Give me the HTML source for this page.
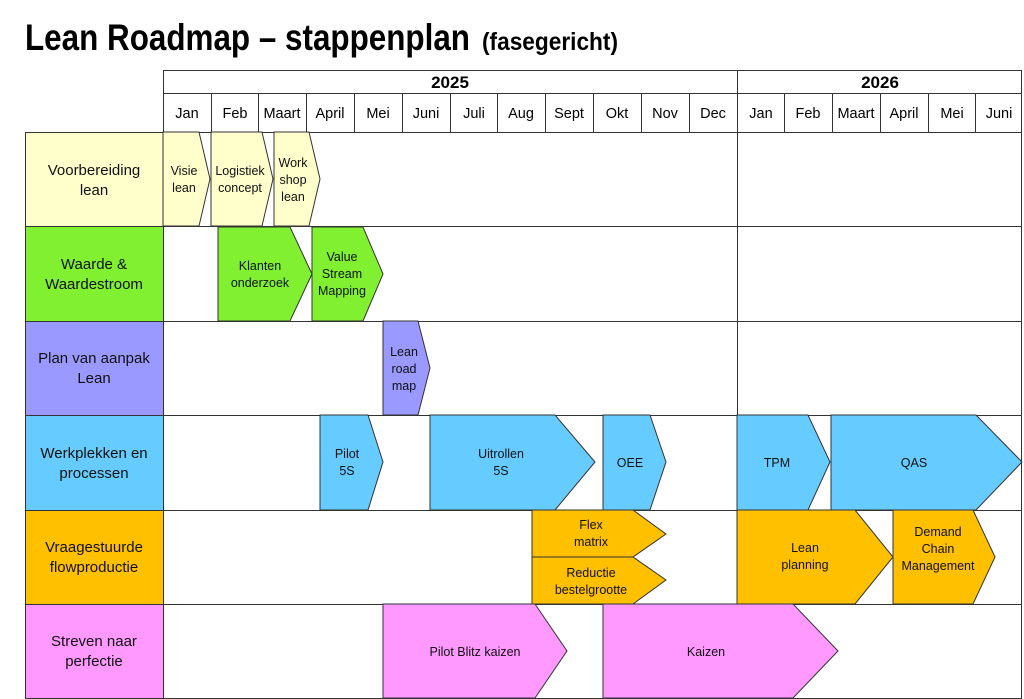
<!DOCTYPE html>
<html><head><meta charset="utf-8"><style>
html,body{margin:0;padding:0;background:#fff}
svg{display:block}
text{font-family:"Liberation Sans",sans-serif}
</style></head><body>
<svg width="1024" height="699" viewBox="0 0 1024 699" xmlns="http://www.w3.org/2000/svg">
<rect width="1024" height="699" fill="#fff"/>
<text x="25" y="50" font-size="37" font-weight="bold" textLength="445" lengthAdjust="spacingAndGlyphs">Lean Roadmap – stappenplan</text>
<text x="482" y="50" font-size="25" font-weight="bold" textLength="136" lengthAdjust="spacingAndGlyphs">(fasegericht)</text>

<!-- header -->
<g stroke="#333" stroke-width="1" fill="none">
<rect x="163.5" y="70.5" width="858" height="62"/>
<line x1="163" y1="93.5" x2="1022" y2="93.5"/>
<line x1="737.5" y1="70" x2="737.5" y2="698"/>
</g>
<g stroke="#333" stroke-width="1">
<line x1="211.5" y1="93" x2="211.5" y2="132"/><line x1="258.5" y1="93" x2="258.5" y2="132"/><line x1="306.5" y1="93" x2="306.5" y2="132"/><line x1="354.5" y1="93" x2="354.5" y2="132"/><line x1="402.5" y1="93" x2="402.5" y2="132"/><line x1="450.5" y1="93" x2="450.5" y2="132"/><line x1="497.5" y1="93" x2="497.5" y2="132"/><line x1="545.5" y1="93" x2="545.5" y2="132"/><line x1="593.5" y1="93" x2="593.5" y2="132"/><line x1="641.5" y1="93" x2="641.5" y2="132"/><line x1="689.5" y1="93" x2="689.5" y2="132"/><line x1="784.5" y1="93" x2="784.5" y2="132"/><line x1="832.5" y1="93" x2="832.5" y2="132"/><line x1="880.5" y1="93" x2="880.5" y2="132"/><line x1="928.5" y1="93" x2="928.5" y2="132"/><line x1="975.5" y1="93" x2="975.5" y2="132"/>
</g>
<g font-size="17" font-weight="bold" text-anchor="middle"><text x="450" y="88">2025</text><text x="880" y="88">2026</text></g>
<g font-size="14.5" text-anchor="middle">
<text x="187" y="118">Jan</text><text x="235" y="118">Feb</text><text x="282" y="118">Maart</text><text x="330" y="118">April</text><text x="378" y="118">Mei</text><text x="426" y="118">Juni</text><text x="474" y="118">Juli</text><text x="521" y="118">Aug</text><text x="569" y="118">Sept</text><text x="617" y="118">Okt</text><text x="665" y="118">Nov</text><text x="713" y="118">Dec</text><text x="761" y="118">Jan</text><text x="808" y="118">Feb</text><text x="856" y="118">Maart</text><text x="904" y="118">April</text><text x="952" y="118">Mei</text><text x="999" y="118">Juni</text>
</g>

<!-- rows -->
<g stroke="#333" stroke-width="1">
<rect x="25.5" y="132.5" width="138" height="94" fill="#ffffcc"/>
<rect x="25.5" y="226.5" width="138" height="95" fill="#80f030"/>
<rect x="25.5" y="321.5" width="138" height="94" fill="#9999ff"/>
<rect x="25.5" y="415.5" width="138" height="95" fill="#66ccff"/>
<rect x="25.5" y="510.5" width="138" height="94" fill="#ffc000"/>
<rect x="25.5" y="604.5" width="138" height="94" fill="#ff99ff"/>
<g fill="none">
<rect x="163.5" y="132.5" width="858" height="94"/>
<rect x="163.5" y="226.5" width="858" height="95"/>
<rect x="163.5" y="321.5" width="858" height="94"/>
<rect x="163.5" y="415.5" width="858" height="95"/>
<rect x="163.5" y="510.5" width="858" height="94"/>
<rect x="163.5" y="604.5" width="858" height="94"/>
</g>
</g>
<g font-size="15" text-anchor="middle" fill="#111">
<text x="94" y="175">Voorbereiding</text><text x="94" y="195">lean</text>
<text x="94" y="269">Waarde &amp;</text><text x="94" y="289">Waardestroom</text>
<text x="94" y="363">Plan van aanpak</text><text x="94" y="383">Lean</text>
<text x="94" y="458">Werkplekken en</text><text x="94" y="478">processen</text>
<text x="94" y="552">Vraagestuurde</text><text x="94" y="572">flowproductie</text>
<text x="94" y="646">Streven naar</text><text x="94" y="666">perfectie</text>
</g>

<!-- arrows -->
<g stroke="#333" stroke-width="1">
<polygon fill="#ffffcc" points="163,132 199,132 210,179 199,226 163,226"/>
<polygon fill="#ffffcc" points="211,132 262,132 273,179 262,226 211,226"/>
<polygon fill="#ffffcc" points="274,132 309,132 320,179 309,226 274,226"/>
<polygon fill="#80f030" points="218,227 290,227 312,274 290,321 218,321"/>
<polygon fill="#80f030" points="312,227 363,227 383,274 363,321 312,321"/>
<polygon fill="#9999ff" points="383,321 418,321 430,368 418,415 383,415"/>
<polygon fill="#66ccff" points="320,415 368,415 383,462 368,510 320,510"/>
<polygon fill="#66ccff" points="430,415 555,415 595,462 555,510 430,510"/>
<polygon fill="#66ccff" points="603,415 650,415 666,462 650,510 603,510"/>
<polygon fill="#66ccff" points="737,415 808,415 830,462 808,510 737,510"/>
<polygon fill="#66ccff" points="831,415 976,415 1022,462 976,510 831,510"/>
<polygon fill="#ffc000" points="532,510 633,510 666,534 633,557 532,557"/>
<polygon fill="#ffc000" points="532,557 633,557 666,580 633,604 532,604"/>
<polygon fill="#ffc000" points="737,510 855,510 893,557 855,604 737,604"/>
<polygon fill="#ffc000" points="893,510 973,510 995,557 973,604 893,604"/>
<polygon fill="#ff99ff" points="383,604 535,604 567,651 535,698 383,698"/>
<polygon fill="#ff99ff" points="603,604 793,604 838,651 793,698 603,698"/>
</g>
<g font-size="12.5" text-anchor="middle" fill="#111">
<text x="184" y="175">Visie</text><text x="184" y="192">lean</text>
<text x="240" y="175">Logistiek</text><text x="240" y="192">concept</text>
<text x="293" y="167">Work</text><text x="293" y="184">shop</text><text x="293" y="201">lean</text>
<text x="260" y="270">Klanten</text><text x="260" y="287">onderzoek</text>
<text x="342" y="261">Value</text><text x="342" y="278">Stream</text><text x="342" y="295">Mapping</text>
<text x="404" y="356">Lean</text><text x="404" y="373">road</text><text x="404" y="390">map</text>
<text x="347" y="458">Pilot</text><text x="347" y="475">5S</text>
<text x="501" y="458">Uitrollen</text><text x="501" y="475">5S</text>
<text x="630" y="467">OEE</text>
<text x="777" y="467">TPM</text>
<text x="914" y="467">QAS</text>
<text x="591" y="529">Flex</text><text x="591" y="546">matrix</text>
<text x="591" y="577">Reductie</text><text x="591" y="594">bestelgrootte</text>
<text x="805" y="552">Lean</text><text x="805" y="569">planning</text>
<text x="938" y="536">Demand</text><text x="938" y="553">Chain</text><text x="938" y="570">Management</text>
<text x="475" y="656">Pilot Blitz kaizen</text>
<text x="706" y="656">Kaizen</text>
</g>
</svg>
</body></html>
